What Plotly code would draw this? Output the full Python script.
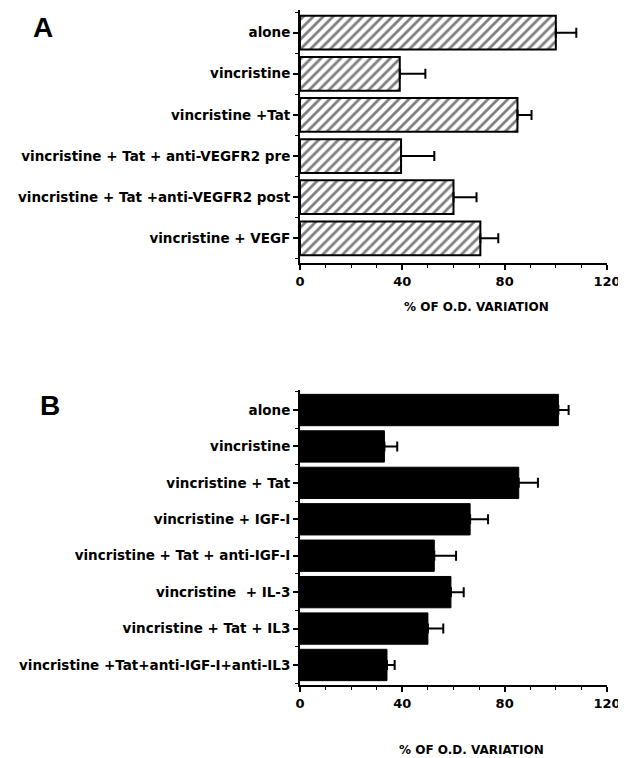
import plotly.graph_objects as go

# Panel A data
cats_a = ["alone", "vincristine", "vincristine +Tat",
          "vincristine + Tat + anti-VEGFR2 pre",
          "vincristine + Tat +anti-VEGFR2 post",
          "vincristine + VEGF"]
vals_a = [100, 39, 85, 39.5, 60, 70.5]
err_a = [8, 10, 5.5, 13, 9, 7]

# Panel B data
cats_b = ["alone", "vincristine", "vincristine + Tat", "vincristine + IGF-I",
          "vincristine + Tat + anti-IGF-I", "vincristine  + IL-3",
          "vincristine + Tat + IL3", "vincristine +Tat+anti-IGF-I+anti-IL3"]
vals_b = [101, 33, 85.5, 66.5, 52.5, 59, 50, 34]
err_b = [4, 5, 7.5, 7, 8.5, 5, 6, 3]

x_ticks = [0, 40, 80, 120]
x_title = "% OF O.D. VARIATION"

# page body has an 8px margin, so the figure is offset
OFF = 8
W, H = 626 - OFF, 758 - OFF
FONT = "DejaVu Sans"


def px(x):
    return (x - OFF) / W


def py(y):
    return 1 - (y - OFF) / H


fig = go.Figure()

pos_a = list(range(len(cats_a)))
pos_b = list(range(len(cats_b)))

fig.add_trace(go.Bar(
    x=vals_a, y=pos_a, orientation="h", xaxis="x", yaxis="y", width=0.82,
    marker=dict(color="white", line=dict(color="black", width=2),
                pattern=dict(shape="/", fgcolor="black", bgcolor="white",
                             size=7, solidity=0.4)),
    error_x=dict(type="data", array=err_a, symmetric=False, arrayminus=[0] * len(err_a),
                 color="black", thickness=2, width=5),
    showlegend=False))

fig.add_trace(go.Bar(
    x=vals_b, y=pos_b, orientation="h", xaxis="x2", yaxis="y2", width=0.86,
    marker=dict(color="black", line=dict(color="black", width=1)),
    error_x=dict(type="data", array=err_b, symmetric=False, arrayminus=[0] * len(err_b),
                 color="black", thickness=2, width=5),
    showlegend=False))

xdom = [px(300), px(607)]


def xaxis_cfg(anchor):
    return dict(domain=xdom, anchor=anchor, range=[0, 120], tickvals=x_ticks,
                ticks="outside", ticklen=5, tickwidth=2, tickcolor="black",
                showline=True, linecolor="black", linewidth=2,
                showgrid=False, zeroline=False, automargin=False,
                ticklabeloverflow="allow",
                minor=dict(dtick=10, tick0=0, ticks="outside", ticklen=3,
                           tickwidth=1, tickcolor="black"),
                tickfont=dict(family=FONT, size=13, color="black", weight="bold"))


def yaxis_cfg(anchor, dom, cats, rng):
    return dict(domain=dom, anchor=anchor, range=rng,
                tickmode="array", tickvals=list(range(len(cats))), ticktext=cats,
                ticks="outside", ticklen=5, tickwidth=2, tickcolor="black",
                showline=True, linecolor="black", linewidth=2,
                showgrid=False, zeroline=False, automargin=False,
                ticklabeloverflow="allow",
                minor=dict(tickmode="linear", tick0=0.5, dtick=1, ticks="outside",
                           ticklen=3, tickwidth=1, tickcolor="black"),
                tickfont=dict(family=FONT, size=13.5, color="black", weight="bold"))


fig.update_layout(
    width=W, height=H,
    margin=dict(l=0, r=0, t=0, b=0),
    paper_bgcolor="white", plot_bgcolor="white",
    barmode="overlay",
    xaxis=xaxis_cfg("y"),
    yaxis=yaxis_cfg("x", [py(263), py(10)], cats_a, [5.6, -0.55]),
    xaxis2=xaxis_cfg("y2"),
    yaxis2=yaxis_cfg("x2", [py(685), py(390)], cats_b, [7.55, -0.55]),
)

ann = [
    dict(text="<b>A</b>", x=px(43), y=py(28)),
    dict(text="<b>B</b>", x=px(50), y=py(405)),
]
for a in ann:
    a.update(xref="paper", yref="paper", xanchor="center", yanchor="middle",
             showarrow=False, font=dict(family="Liberation Sans", size=28, color="black"))
for xc, yc in [(476, 307), (471, 750)]:
    ann.append(dict(text="<b>" + x_title + "</b>", x=px(xc), y=py(yc),
                    xref="paper", yref="paper", xanchor="center", yanchor="middle",
                    showarrow=False, font=dict(family=FONT, size=12, color="black")))
fig.update_layout(annotations=ann)

fig.write_html("out.html")
